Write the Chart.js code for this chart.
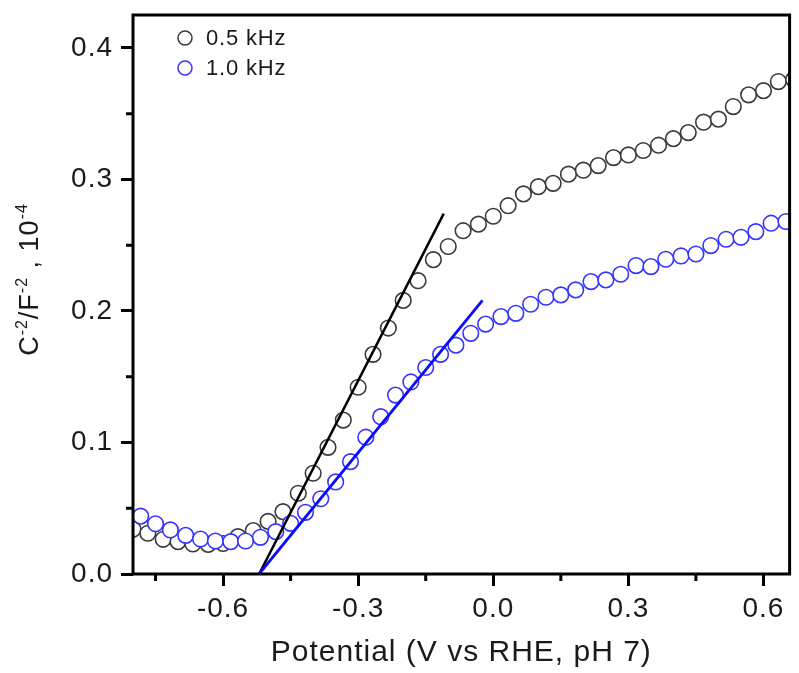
<!DOCTYPE html>
<html>
<head>
<meta charset="utf-8">
<script src="https://cdn.jsdelivr.net/npm/chart.js@4.4.0/dist/chart.umd.min.js"></script>
<style>
  html, body { margin: 0; padding: 0; background: #fff; }
  canvas { display: block; }
</style>
</head>
<body>
<canvas id="mottSchottky" width="799" height="673"></canvas>
<script>
// Mott-Schottky data, potential in V vs RHE, C^-2 in 1e-4 F^-2
const potLow = [-0.800, -0.767, -0.733, -0.700, -0.667, -0.633, -0.600, -0.567, -0.533, -0.500,
  -0.467, -0.433, -0.400, -0.367, -0.333, -0.300, -0.267, -0.233, -0.200, -0.167,
  -0.133, -0.100, -0.067, -0.033, 0.000, 0.033, 0.067, 0.100, 0.133, 0.167,
  0.200, 0.233, 0.267, 0.300, 0.333, 0.367, 0.400, 0.433, 0.467, 0.500,
  0.533, 0.567, 0.600, 0.633, 0.667];
const csLow = [0.0340, 0.0310, 0.0264, 0.0246, 0.0228, 0.0225, 0.0232, 0.0284, 0.0330, 0.0400,
  0.0474, 0.0614, 0.0766, 0.0963, 0.1170, 0.1420, 0.1670, 0.1870, 0.2080, 0.2230,
  0.2390, 0.2490, 0.2610, 0.2660, 0.2720, 0.2800, 0.2890, 0.2945, 0.2970, 0.3040,
  0.3070, 0.3105, 0.3166, 0.3186, 0.3220, 0.3260, 0.3310, 0.3356, 0.3435, 0.3458,
  0.3554, 0.3643, 0.3675, 0.3744, 0.3760];

const potHigh = [-0.783, -0.750, -0.717, -0.683, -0.650, -0.617, -0.583, -0.550, -0.517, -0.483,
  -0.450, -0.417, -0.383, -0.350, -0.317, -0.283, -0.250, -0.217, -0.183, -0.150,
  -0.117, -0.083, -0.050, -0.017, 0.017, 0.050, 0.083, 0.117, 0.150, 0.183,
  0.217, 0.250, 0.283, 0.317, 0.350, 0.383, 0.417, 0.450, 0.483, 0.517,
  0.550, 0.583, 0.617, 0.650];
const csHigh = [0.0440, 0.0382, 0.0335, 0.0294, 0.0266, 0.0251, 0.0246, 0.0251, 0.0279, 0.0322,
  0.0385, 0.0469, 0.0572, 0.0700, 0.0854, 0.1040, 0.1196, 0.1360, 0.1460, 0.1570,
  0.1670, 0.1740, 0.1830, 0.1900, 0.1957, 0.1982, 0.2051, 0.2104, 0.2122, 0.2160,
  0.2223, 0.2236, 0.2279, 0.2345, 0.2337, 0.2393, 0.2418, 0.2433, 0.2497, 0.2545,
  0.2560, 0.2603, 0.2667, 0.2680];

// linear fits (flat band extrapolation)
const fitLowX = [-0.52, -0.11];
const fitLowY = [0, 0.274];
const fitHighX = [-0.52, -0.024];
const fitHighY = [0, 0.208];

const seriesLabels = ['0.5 kHz', '1.0 kHz'];
const seriesColors = ['#3a3a3a', '#3434ff'];
const fitColors = ['#000000', '#0a0aff'];

const xTicks = [-0.6, -0.3, 0.0, 0.3, 0.6];
const xMinorTicks = [-0.75, -0.45, -0.15, 0.15, 0.45];
const yTicks = [0.0, 0.1, 0.2, 0.3, 0.4];
const yMinorTicks = [0.05, 0.15, 0.25, 0.35];

const FONT = '"Liberation Sans", Arial, sans-serif';
Chart.defaults.font.family = FONT;

function toPoints(xs, ys) {
  return xs.map((x, i) => ({ x: x, y: ys[i] }));
}

// letter spacing for the library drawn text (reference font is wide)
const spacingPlugin = {
  id: 'spacing',
  beforeDraw(chart) {
    chart.ctx.letterSpacing = '1px';
  }
};

// box frame + minor ticks
const framePlugin = {
  id: 'frame',
  afterDatasetsDraw(chart) {
    const ctx = chart.ctx;
    const a = chart.chartArea;
    const xs = chart.scales.x;
    const ys = chart.scales.y;
    ctx.save();
    ctx.strokeStyle = '#000';
    ctx.lineWidth = 3;
    ctx.strokeRect(a.left, a.top, a.right - a.left, a.bottom - a.top);
    ctx.beginPath();
    xMinorTicks.forEach(v => {
      const px = xs.getPixelForValue(v);
      ctx.moveTo(px, a.bottom);
      ctx.lineTo(px, a.bottom + 7);
    });
    yMinorTicks.forEach(v => {
      const py = ys.getPixelForValue(v);
      ctx.moveTo(a.left, py);
      ctx.lineTo(a.left - 7, py);
    });
    ctx.stroke();
    ctx.restore();
  }
};

const legendPlugin = {
  id: 'insetLegend',
  afterDraw(chart) {
    const ctx = chart.ctx;
    const a = chart.chartArea;
    ctx.save();
    ctx.letterSpacing = '0.8px';
    ctx.font = '22px ' + FONT;
    ctx.textBaseline = 'middle';
    seriesLabels.forEach((label, i) => {
      const x = a.left + 52;
      const y = a.top + 23 + i * 30;
      ctx.beginPath();
      ctx.arc(x, y, 7, 0, Math.PI * 2);
      ctx.fillStyle = '#fff';
      ctx.fill();
      ctx.lineWidth = 1.5;
      ctx.strokeStyle = seriesColors[i];
      ctx.stroke();
      ctx.fillStyle = '#1a1a1a';
      ctx.fillText(label, x + 21, y + 1);
    });
    ctx.restore();
  }
};

// y axis title with superscripts
const yTitlePlugin = {
  id: 'yTitle',
  afterDraw(chart) {
    const ctx = chart.ctx;
    const a = chart.chartArea;
    const parts = [['C', false], ['-2', true], ['/F', false], ['-2', true], [' , 10', false], ['-4', true]];
    const mainFont = '27px ' + FONT;
    const supFont = '16px ' + FONT;
    ctx.save();
    ctx.letterSpacing = '1px';
    ctx.translate(38, (a.top + a.bottom) / 2 - 15);
    ctx.rotate(-Math.PI / 2);
    let total = 0;
    parts.forEach(p => {
      ctx.font = p[1] ? supFont : mainFont;
      total += ctx.measureText(p[0]).width;
    });
    let x = -total / 2;
    ctx.fillStyle = '#1a1a1a';
    ctx.textBaseline = 'alphabetic';
    parts.forEach(p => {
      ctx.font = p[1] ? supFont : mainFont;
      ctx.fillText(p[0], x, p[1] ? -11 : 0);
      x += ctx.measureText(p[0]).width;
    });
    ctx.restore();
  }
};

const ctx = document.getElementById('mottSchottky').getContext('2d');
new Chart(ctx, {
  type: 'scatter',
  data: {
    datasets: [
      {
        label: 'fit 1.0 kHz',
        data: toPoints(fitHighX, fitHighY),
        showLine: true,
        borderColor: fitColors[1],
        borderWidth: 2.8,
        pointRadius: 0,
        clip: 0
      },
      {
        label: 'fit 0.5 kHz',
        data: toPoints(fitLowX, fitLowY),
        showLine: true,
        borderColor: fitColors[0],
        borderWidth: 2.5,
        pointRadius: 0,
        clip: 0
      },
      {
        label: seriesLabels[1],
        data: toPoints(potHigh, csHigh),
        pointRadius: 7.8,
        pointBorderWidth: 1.6,
        pointBorderColor: seriesColors[1],
        pointBackgroundColor: '#fff',
        clip: 0
      },
      {
        label: seriesLabels[0],
        data: toPoints(potLow, csLow),
        pointRadius: 7.8,
        pointBorderWidth: 1.6,
        pointBorderColor: seriesColors[0],
        pointBackgroundColor: '#fff',
        clip: 0
      }
    ]
  },
  options: {
    responsive: false,
    animation: false,
    events: [],
    layout: { padding: { top: 15, right: 2, left: 0, bottom: 0 } },
    plugins: {
      legend: { display: false },
      tooltip: { enabled: false }
    },
    scales: {
      x: {
        type: 'linear',
        min: -0.8,
        max: 0.658,
        afterBuildTicks: s => { s.ticks = xTicks.map(v => ({ value: v })); },
        afterFit: s => {
          s.height = 99;
          s.paddingLeft = 0;
          s.paddingRight = 0;
        },
        ticks: {
          callback: v => v.toFixed(1),
          font: { size: 28 },
          color: '#1a1a1a',
          padding: 6
        },
        grid: {
          drawOnChartArea: false,
          tickLength: 12,
          lineWidth: 3,
          tickWidth: 3,
          color: '#000',
          tickColor: '#000'
        },
        border: { display: false },
        title: {
          display: true,
          text: 'Potential (V vs RHE, pH 7)',
          font: { size: 30 },
          color: '#1a1a1a',
          padding: { top: 0, bottom: 2 }
        }
      },
      y: {
        type: 'linear',
        min: 0,
        max: 0.425,
        afterBuildTicks: s => { s.ticks = yTicks.map(v => ({ value: v })); },
        afterFit: s => {
          s.width = 133;
          s.paddingTop = 0;
          s.paddingBottom = 0;
        },
        ticks: {
          callback: v => v.toFixed(1),
          font: { size: 28 },
          color: '#1a1a1a',
          padding: 8
        },
        grid: {
          drawOnChartArea: false,
          tickLength: 12,
          lineWidth: 3,
          tickWidth: 3,
          color: '#000',
          tickColor: '#000'
        },
        border: { display: false }
      }
    }
  },
  plugins: [spacingPlugin, framePlugin, legendPlugin, yTitlePlugin]
});
</script>
</body>
</html>
